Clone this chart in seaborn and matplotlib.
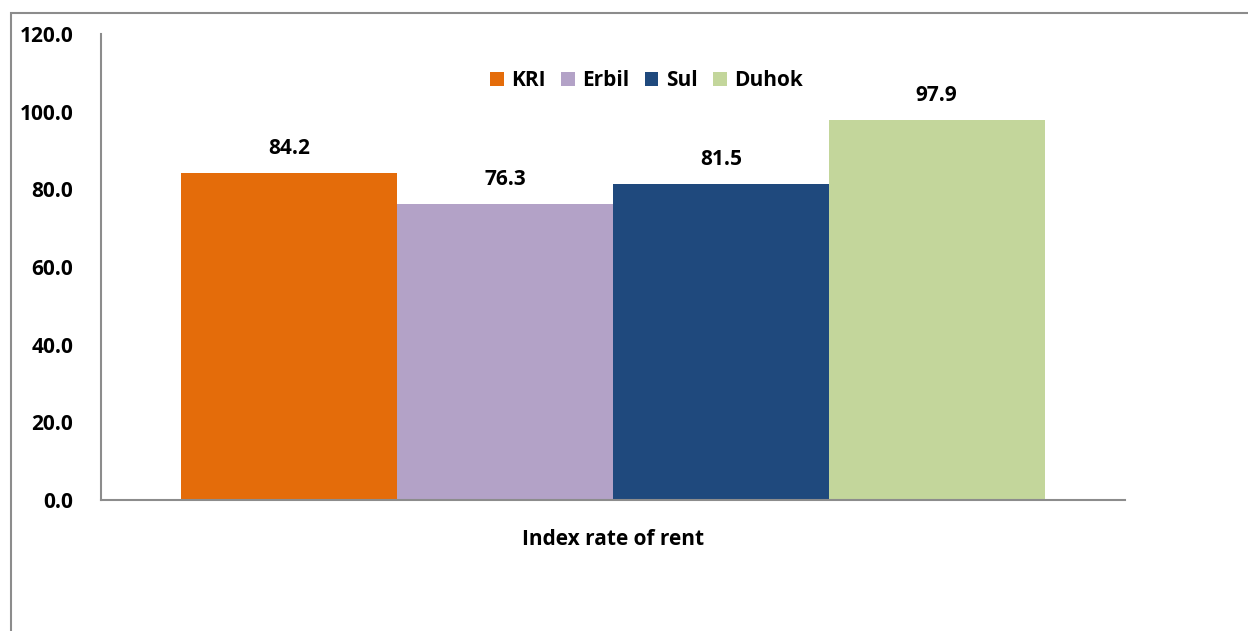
import matplotlib
matplotlib.use("Agg")
import matplotlib.pyplot as plt
import seaborn as sns
import pandas as pd
from matplotlib.patches import Rectangle

category = ["Index rate of rent"]
series = ["KRI", "Erbil", "Sul", "Duhok"]
values = [84.2, 76.3, 81.5, 97.9]
colors = ["#E46C0A", "#B3A2C7", "#1F497D", "#C3D69B"]
yticks = [0, 20, 40, 60, 80, 100, 120]

df = pd.DataFrame({"cat": category * len(series), "region": series, "value": values})

sns.set_theme(style="white")
plt.rcParams["font.family"] = ["Open Sans", "DejaVu Sans"]
plt.rcParams["font.weight"] = "bold"
plt.rcParams["text.color"] = "black"
plt.rcParams["xtick.color"] = "black"
plt.rcParams["ytick.color"] = "black"

fig = plt.figure(figsize=(12.48, 6.31), dpi=100)
ax = fig.add_axes([0.0809, 0.2076, 0.8205, 0.7384])

sns.barplot(data=df, x="cat", y="value", hue="region", hue_order=series,
            palette=colors, width=0.843, gap=0, saturation=1, linewidth=0,
            ax=ax, legend=True)

for cont in ax.containers:
    ax.bar_label(cont, fmt="%.1f", padding=10, fontsize=15, fontweight="bold")

ax.set_ylim(0, 120)
ax.set_xlim(-0.5, 0.5)
ax.set_yticks(yticks)
ax.set_yticklabels([f"{t:.1f}" for t in yticks], fontsize=15, fontweight="bold")
ax.tick_params(axis="y", pad=20, length=0)
ax.tick_params(axis="x", pad=21, length=0, labelsize=15)
for lbl in ax.get_xticklabels():
    lbl.set_fontweight("bold")
ax.set_xlabel("")
ax.set_ylabel("")
for s in ["top", "right"]:
    ax.spines[s].set_visible(False)
for s in ["left", "bottom"]:
    ax.spines[s].set_color("#8c8c8c")
    ax.spines[s].set_linewidth(1.5)

leg = ax.legend(loc="center", bbox_to_anchor=(0.518, 0.872), bbox_transform=fig.transFigure,
                ncol=4, frameon=False, fontsize=15, handlelength=0.65, handleheight=0.65,
                handletextpad=0.35, columnspacing=0.75)
for t in leg.get_texts():
    t.set_fontweight("bold")

# outer chart border
fig.patches.append(Rectangle((0.0088, -0.1), 1.2, 0.1 + 0.979, transform=fig.transFigure,
                             fill=False, edgecolor="#8c8c8c", linewidth=1.5))

fig.savefig("out.png", dpi=100)
